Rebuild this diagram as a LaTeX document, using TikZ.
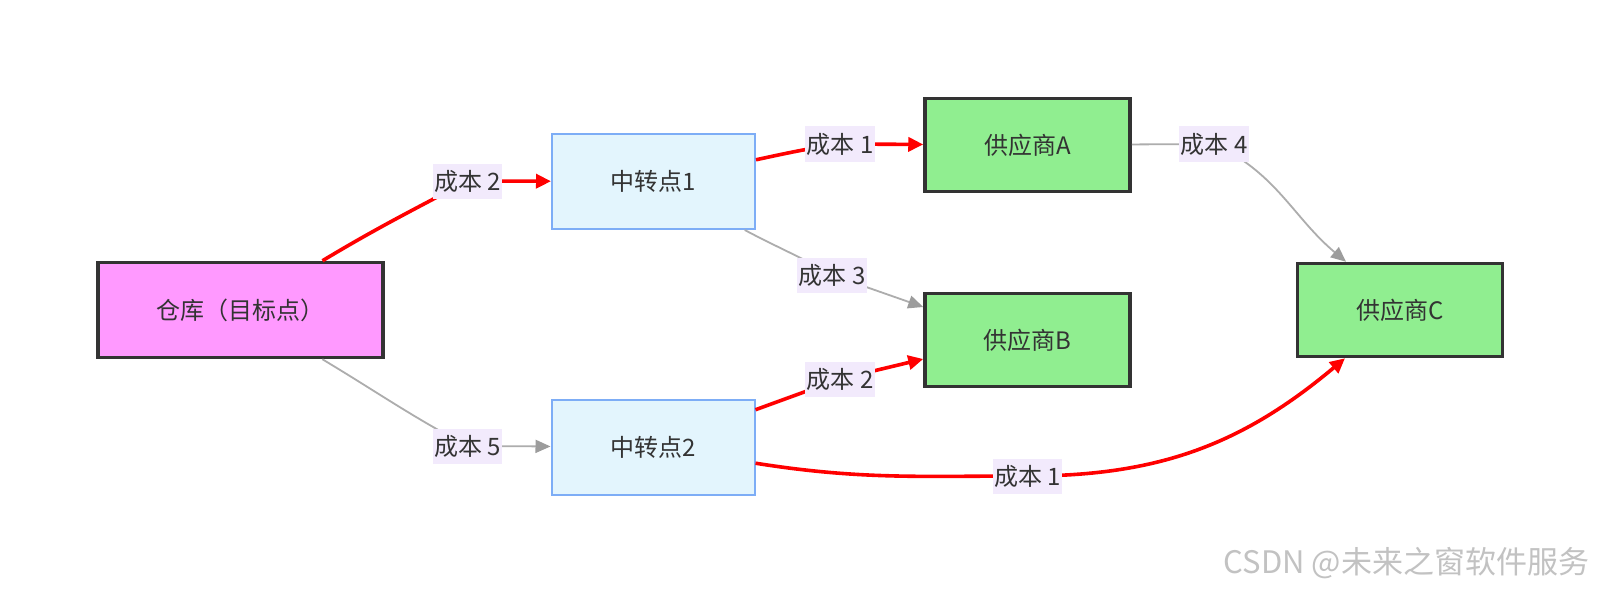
\documentclass[tikz,border=0pt]{standalone}
\usepackage{fontspec}
\setmainfont{Noto Sans CJK SC}
\usepackage{xcolor}
\usetikzlibrary{arrows.meta}

\definecolor{ink}{HTML}{333333}
\definecolor{whfill}{HTML}{FF99FF}
\definecolor{relayfill}{HTML}{E3F5FD}
\definecolor{relayline}{HTML}{7DADF6}
\definecolor{supfill}{HTML}{90EE90}
\definecolor{costbg}{HTML}{F2EAFC}
\definecolor{edgegray}{HTML}{ADADAD}
\definecolor{tipgray}{HTML}{9C9C9C}

\tikzset{
  txt/.style={text=ink, font=\fontsize{24}{29}\selectfont, inner sep=0pt},
  depot/.style={txt, draw=ink, line width=3.5pt, fill=whfill, minimum width=285pt, minimum height=95pt},
  relay/.style={txt, draw=relayline, line width=2pt, fill=relayfill, minimum width=203pt, minimum height=95pt},
  supplier/.style={txt, draw=ink, line width=3.5pt, fill=supfill, minimum width=205pt, minimum height=93pt},
  cost/.style={txt, fill=costbg, inner xsep=1.5pt, minimum height=35pt},
  redflow/.style={draw=red, line width=3.6pt, -{Triangle[length=15pt,width=14pt]}},
  grayflow/.style={draw=edgegray, line width=1.8pt, -{Triangle[length=15pt,width=13pt,fill=tipgray,color=tipgray]}}
}

\begin{document}
\begin{tikzpicture}[x=1pt,y=1pt]
    % fond blanc
    \useasboundingbox[fill=white] (0,-591) rectangle (1600,0);
    % noeuds
    \node[depot] (wh) at (240.5,-310) {仓库（目标点）};
    \node[relay] (r1) at (653.5,-181.5) {中转点1};
    \node[relay] (r2) at (653,-447) {中转点2};
    \node[supplier] (sA) at (1027.5,-145) {供应商A};
    \node[supplier] (sB) at (1027.5,-340) {供应商B};
    \node[supplier] (sC) at (1400,-310) {供应商C};
    % places des étiquettes
    \coordinate (c1) at (467.5,-181);
    \coordinate (c2) at (467.5,-446);
    \coordinate (c3) at (840,-144);
    \coordinate (c4) at (832,-275);
    \coordinate (c5) at (840,-379);
    \coordinate (c6) at (1027.5,-476);
    \coordinate (c7) at (1214,-144);
    % chemins
    \draw[redflow] (wh) to[out=31,in=208] (c1) -- (r1);
    \draw[grayflow] (wh) to[out=-31,in=152] (c2) -- (r2);
    \draw[redflow] (r1) to[out=12,in=188] (c3) -- (sA);
    \draw[grayflow] (r1) to[out=-28,in=150] (c4) -- ([yshift=33pt]sB.west);
    \draw[redflow] (r2) to[out=20,in=200] (c5) -- ([yshift=-19pt]sB.west);
    \draw[redflow] (r2) to[out=-9,in=180] (c6) to[out=0,in=220] ([xshift=-55pt]sC.south);
    \draw[grayflow] (sA) -- (c7) to[out=-25,in=140] ([xshift=-54pt]sC.north);
    % étiquettes
    \node[cost] (l1) at (c1) {成本 2};
    \node[cost] (l2) at (c2) {成本 5};
    \node[cost] (l3) at (c3) {成本 1};
    \node[cost] (l4) at (c4) {成本 3};
    \node[cost] (l5) at (c5) {成本 2};
    \node[cost] (l6) at (c6) {成本 1};
    \node[cost] (l7) at (c7) {成本 4};
    % filigrane
    \node[text=black!24, font=\fontsize{31}{34}\selectfont, inner sep=0pt] (mark) at (1406.5,-563) {CSDN @未来之窗软件服务};
\end{tikzpicture}
\end{document}
